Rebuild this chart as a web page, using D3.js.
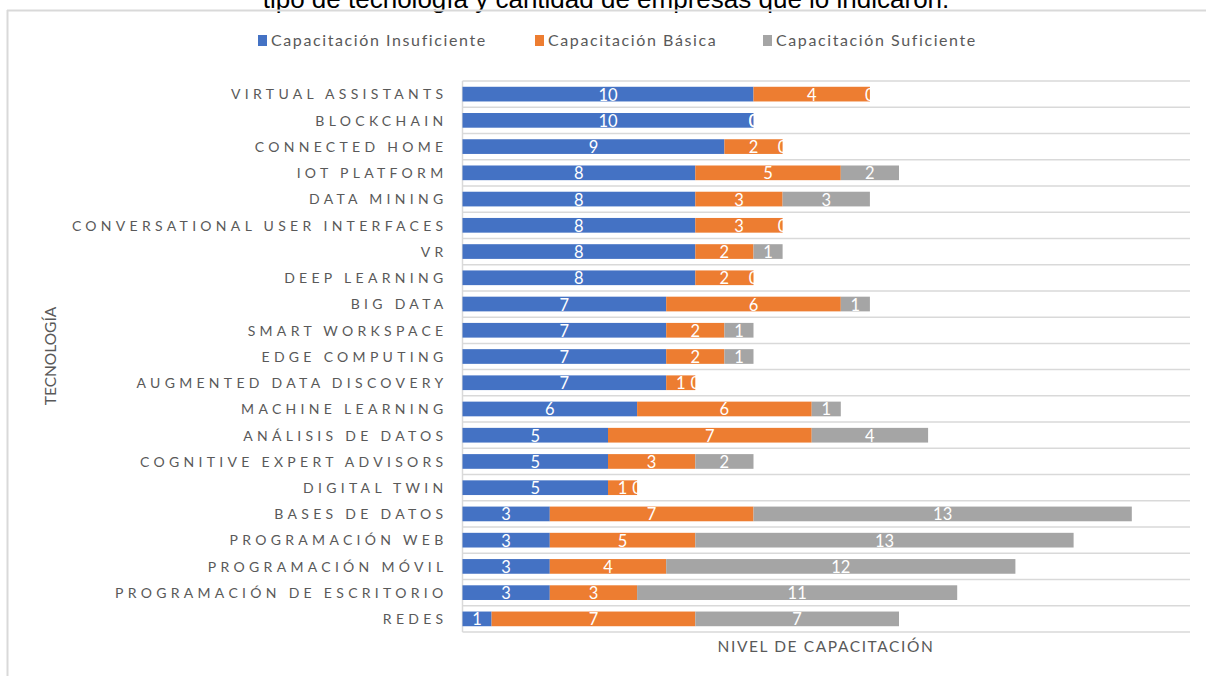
<!DOCTYPE html>
<html><head><meta charset="utf-8">
<script src="https://cdn.jsdelivr.net/npm/d3@7"></script>
<style>
body{margin:0;background:#fff;}
svg{display:block;}
</style></head>
<body>
<svg id="c" width="1206" height="676"></svg>
<script>
const categories = ["VIRTUAL ASSISTANTS","BLOCKCHAIN","CONNECTED HOME","IOT PLATFORM","DATA MINING","CONVERSATIONAL USER INTERFACES","VR","DEEP LEARNING","BIG DATA","SMART WORKSPACE","EDGE COMPUTING","AUGMENTED DATA DISCOVERY","MACHINE LEARNING","ANÁLISIS DE DATOS","COGNITIVE EXPERT ADVISORS","DIGITAL TWIN","BASES DE DATOS","PROGRAMACIÓN WEB","PROGRAMACIÓN MÓVIL","PROGRAMACIÓN DE ESCRITORIO","REDES"];
const insuficiente = [10,10,9,8,8,8,8,8,7,7,7,7,6,5,5,5,3,3,3,3,1];
const basica       = [4,0,2,5,3,3,2,2,6,2,2,1,6,7,3,1,7,5,4,3,7];
const suficiente   = [0,0,0,2,3,0,1,0,1,1,1,0,1,4,2,0,13,13,12,11,7];
const seriesNames = ["Capacitación Insuficiente","Capacitación Básica","Capacitación Suficiente"];
const colors = ["#4472C4","#ED7D31","#A5A5A5"];
const titleText = "tipo de tecnología y cantidad de empresas que lo indicaron.";
const xTitle = "NIVEL DE CAPACITACIÓN";
const yTitle = "TECNOLOGÍA";

const svg = d3.select("#c");
const W = 1206, H = 676;
const m = {left:462.5, right:1190, top:81, bottom:632};

// title (cut off at top, as in the reference)
svg.append("text").attr("x",606).attr("y",8).attr("text-anchor","middle")
  .attr("font-family","Liberation Sans, Arial, sans-serif").attr("font-size",26).attr("fill","#000")
  .text(titleText);

// frame
svg.append("line").attr("x1",7).attr("x2",W).attr("y1",10.5).attr("y2",10.5).attr("stroke","#D9D9D9").attr("stroke-width",2);
svg.append("line").attr("x1",7.5).attr("x2",7.5).attr("y1",10).attr("y2",H).attr("stroke","#D9D9D9").attr("stroke-width",2);

const data = categories.map((c,i)=>({cat:c, s0:insuficiente[i], s1:basica[i], s2:suficiente[i]}));
const stack = d3.stack().keys(["s0","s1","s2"])(data);

const x = d3.scaleLinear().domain([0,25]).range([m.left, m.right]);
const y = d3.scaleBand().domain(categories).range([m.top, m.bottom]).paddingInner(0.44).paddingOuter(0.22);

// gridlines at category boundaries
const bounds = d3.range(categories.length+1).map(i=>m.top + i*(m.bottom-m.top)/categories.length);
svg.append("g").selectAll("line").data(bounds).join("line")
  .attr("x1",m.left).attr("x2",m.right).attr("y1",d=>d).attr("y2",d=>d)
  .attr("stroke","#D9D9D9").attr("stroke-width",1.5);
svg.append("line").attr("x1",m.left).attr("x2",m.left).attr("y1",m.top).attr("y2",m.bottom)
  .attr("stroke","#D9D9D9").attr("stroke-width",1.5);

// bars
const g = svg.append("g");
stack.forEach((layer,k)=>{
  g.append("g").selectAll("rect").data(layer).join("rect")
    .attr("x",d=>x(d[0])).attr("y",d=>y(d.data.cat))
    .attr("width",d=>x(d[1])-x(d[0])).attr("height",y.bandwidth())
    .attr("fill",colors[k]);
});
stack.forEach((layer,k)=>{
  g.append("g").selectAll("text").data(layer).join("text")
    .attr("x",d=>(x(d[0])+x(d[1]))/2).attr("y",d=>y(d.data.cat)+y.bandwidth()/2+6.5)
    .attr("text-anchor","middle").attr("fill","#fff")
    .attr("font-family","Lato, 'Open Sans', sans-serif").attr("font-size",16.5)
    .text(d=>d[1]-d[0]);
});

// y axis labels
const ya = d3.axisLeft(y).tickSize(0).tickPadding(15);
const yg = svg.append("g").attr("transform",`translate(${m.left},0)`).call(ya);
yg.select(".domain").remove();
yg.selectAll("text").attr("font-family","Lato, 'Open Sans', sans-serif").attr("font-size",14)
  .attr("fill","#595959").attr("letter-spacing","4.3px").attr("dy","0.38em");

// axis titles
svg.append("text").attr("x",826).attr("y",652).attr("text-anchor","middle")
  .attr("font-family","Lato, 'Open Sans', sans-serif").attr("font-size",15.5).attr("fill","#595959")
  .attr("letter-spacing","1.6px").text(xTitle);
svg.append("text").attr("transform","translate(56,356) rotate(-90)").attr("text-anchor","middle")
  .attr("font-family","Lato, 'Open Sans', sans-serif").attr("font-size",15.5).attr("fill","#595959")
  .text(yTitle);

// legend
const legX = [258, 535, 763];
const lg = svg.append("g");
seriesNames.forEach((n,i)=>{
  lg.append("rect").attr("x",legX[i]).attr("y",35).attr("width",9).attr("height",11).attr("fill",colors[i]);
  lg.append("text").attr("x",legX[i]+13).attr("y",46).attr("font-family","Lato, 'Open Sans', sans-serif")
    .attr("font-size",16).attr("fill","#595959").attr("letter-spacing","1.6px").text(n);
});
</script>
</body></html>
